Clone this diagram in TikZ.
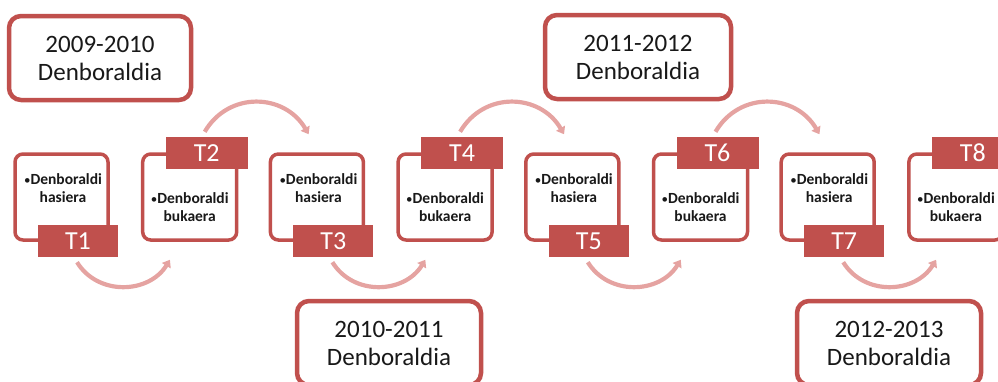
\documentclass[tikz,border=0pt]{standalone}
\usepackage{fontspec}
\setmainfont{Carlito}
\usetikzlibrary{arrows.meta}
\definecolor{accent}{RGB}{192,80,77}
\definecolor{arcc}{RGB}{229,163,161}
\definecolor{ink}{RGB}{25,25,25}
\newcommand{\smallbul}{{\mdseries\fontsize{13}{13}\selectfont •}}
\begin{document}
\begin{tikzpicture}[x=1pt,y=-1pt,
  season/.style={draw=accent, line width=4.5pt, rounded corners=12pt, fill=white,
    minimum width=182pt, minimum height=84pt, align=center, text=ink,
    font=\fontsize{25}{28}\selectfont, inner sep=0pt},
  stepbox/.style={draw=accent, line width=3.5pt, rounded corners=8pt, fill=white,
    minimum width=93pt, minimum height=86pt, inner sep=0pt},
  steptext/.style={align=center, text=ink, font=\bfseries\fontsize{15.5}{18.5}\selectfont, inner sep=0pt},
  tlabel/.style={fill=accent, text=white, minimum width=80pt, minimum height=32pt,
    inner sep=0pt, font=\fontsize{26}{28}\selectfont},
  flowarc/.style={draw=arcc, line width=4.2pt, -{Triangle[length=7pt,width=10pt]}}]
\useasboundingbox (0,0) rectangle (998,381);
\clip (0,0) rectangle (998,381);

% season boxes
\node[season] (s1) at (100,58) {2009-2010\\Denboraldia};
\node[season, minimum width=184pt] (s2) at (389,343) {2010-2011\\Denboraldia};
\node[season, minimum width=186pt] (s3) at (638,57) {2011-2012\\Denboraldia};
\node[season, minimum width=184pt] (s4) at (889,343) {2012-2013\\Denboraldia};

% odd steps
\foreach \i in {1,3,5,7} {
  \pgfmathsetmacro\L{13+(\i-1)*127.7}
  \node[stepbox] (b\i) at (\L+48.5,197) {};
  \node[steptext] (x\i) at (\L+50,188) {\smallbul Denboraldi\\hasiera};
  \node[tlabel] (t\i) at (\L+65,241) {T\i};
}
% even steps
\foreach \i in {2,4,6,8} {
  \pgfmathsetmacro\L{13+(\i-1)*127.7}
  \node[stepbox, minimum width=94pt] (b\i) at (\L+49,197) {};
  \node[steptext] (x\i) at (\L+49,207) {\smallbul Denboraldi\\bukaera};
  \node[tlabel, minimum width=82pt] (t\i) at (\L+66,153) {T\i};
}

% bottom arcs: odd label -> next box
\foreach \i/\n in {1/2,3/4,5/6,7/8} {
  \draw[flowarc] ([xshift=-1pt,yshift=-5pt]t\i.south)
    .. controls +(21,34) and +(-21,34) ..
    ([xshift=29pt,yshift=-18pt]b\n.south west);
}
% top arcs: even label -> next box
\foreach \i/\n in {2/3,4/5,6/7} {
  \draw[flowarc] ([xshift=-2pt,yshift=5pt]t\i.north)
    .. controls +(24,-41) and +(-24,-41) ..
    ([xshift=40pt,yshift=18pt]b\n.north west);
}
\end{tikzpicture}
\end{document}
